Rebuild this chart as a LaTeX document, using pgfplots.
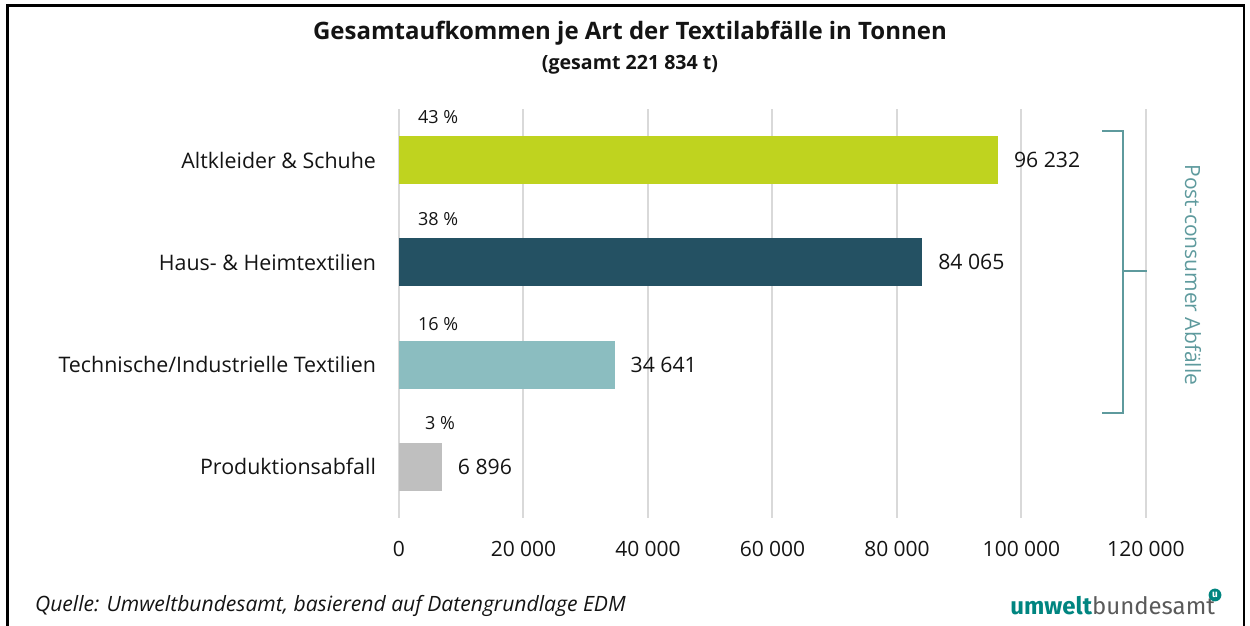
\documentclass[border=0pt]{standalone}
\usepackage{pgfplots}
\pgfplotsset{compat=1.18}
\usepackage{fontspec}
\setmainfont{Open Sans}
\newfontfamily\logofont{Fira Sans}
\definecolor{lime}{RGB}{191,211,31}
\definecolor{darkteal}{RGB}{36,81,99}
\definecolor{lightteal}{RGB}{139,189,192}
\definecolor{barGray}{RGB}{191,191,191}
\definecolor{gridgray}{RGB}{217,217,217}
\definecolor{brackteal}{RGB}{94,154,157}
\definecolor{logoteal}{RGB}{0,133,128}
\definecolor{logogray}{RGB}{90,90,90}
\definecolor{txt}{RGB}{20,20,20}
\begin{document}
\begin{tikzpicture}
\begin{scope}[x=0.5pt,y=0.5pt]
\path[use as bounding box] (0,0) rectangle (1250,626);
\draw[line width=1.3pt] (7.5,0) -- (7.5,620.5) -- (1244,620.5) -- (1244,0);
\node[font=\bfseries\fontsize{12}{14}\selectfont, text=txt] at (630,593) {Gesamtaufkommen je Art der Textilabfälle in Tonnen};
\node[font=\bfseries\fontsize{9.8}{11}\selectfont, text=txt] at (630,561) {(gesamt 221 834 t)};
\end{scope}
\begin{axis}[
  at={(199.5pt,54pt)}, anchor=south west,
  scale only axis, width=373.5pt, height=204.5pt,
  xbar, bar shift=0pt, bar width=0.47,
  xmin=0, xmax=120000, ymin=-0.5, ymax=3.5,
  axis line style={draw=none},
  major tick length=0pt,
  scaled x ticks=false,
  xmajorgrids, grid style={color=gridgray, line width=1pt},
  xtick={0,20000,40000,60000,80000,100000,120000},
  xticklabels={0,20 000,40 000,60 000,80 000,100 000,120 000},
  ytick={0,1,2,3},
  yticklabels={Produktionsabfall,Technische/Industrielle Textilien,Haus- \& Heimtextilien,Altkleider \& Schuhe},
  ticklabel style={font=\fontsize{10.5}{12}\selectfont, text=txt},
  yticklabel style={xshift=-8pt, font=\fontsize{10.7}{12}\selectfont},
  xticklabel style={yshift=-8pt},
  /pgf/number format/assume math mode=true,
  point meta=explicit symbolic,
  nodes near coords,
  nodes near coords style={font=\fontsize{10.6}{12}\selectfont, text=txt, anchor=west, xshift=4.5pt},
  clip=false,
]
\addplot[fill=lime, draw=none] coordinates {(96232,3) [96 232]};
\addplot[fill=darkteal, draw=none] coordinates {(84065,2) [84 065]};
\addplot[fill=lightteal, draw=none] coordinates {(34641,1) [34 641]};
\addplot[fill=barGray, draw=none] coordinates {(6896,0) [6 896]};
\node[font=\fontsize{9}{11}\selectfont, text=txt] at (axis cs:6300,3.42) {43 \%};
\node[font=\fontsize{9}{11}\selectfont, text=txt] at (axis cs:6300,2.42) {38 \%};
\node[font=\fontsize{9}{11}\selectfont, text=txt] at (axis cs:6300,1.40) {16 \%};
\node[font=\fontsize{9}{11}\selectfont, text=txt] at (axis cs:6600,0.43) {3 \%};
\end{axis}
\begin{scope}[x=0.5pt,y=0.5pt]
\draw[brackteal, line width=1pt] (1102,495) -- (1123,495) -- (1123,213) -- (1102,213);
\draw[brackteal, line width=1pt] (1123,355) -- (1147,355);
\node[rotate=-90, font=\fontsize{10.5}{12}\selectfont, text=brackteal] at (1193,351) {Post-consumer Abfälle};
\node[anchor=base west, font=\itshape\fontsize{10.55}{12}\selectfont, text=txt] at (28,14) {Quelle: Umweltbundesamt, basierend auf Datengrundlage EDM};
\node[anchor=base west, inner sep=0pt, font=\logofont\fontsize{12}{14}\selectfont] at (1010,11) {\textcolor{logoteal}{\bfseries umwelt}\textcolor{logogray}{bundesamt}};
\fill[logoteal] (1215,31) circle (3.2pt);
\node[text=white, font=\logofont\bfseries\fontsize{5}{6}\selectfont, inner sep=0pt] at (1215,31.5) {u};
\end{scope}
\end{tikzpicture}
\end{document}
